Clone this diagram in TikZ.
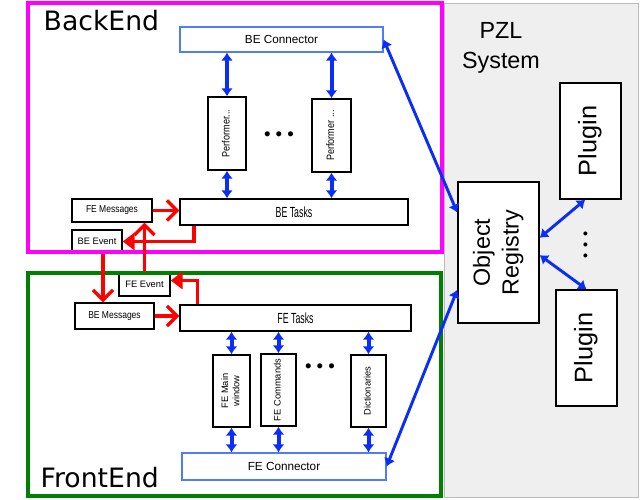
\documentclass[tikz,border=0pt]{standalone}
\usepackage{fontspec}
\setmainfont{Liberation Sans}
\newfontfamily\labelfont{DejaVu Sans}
\newfontfamily\narrowfont[FakeStretch=0.6]{Liberation Sans}
\newfontfamily\slimfont[FakeStretch=0.85]{Liberation Sans}
\usetikzlibrary{arrows.meta,calc}
\definecolor{PzlMagenta}{HTML}{FF00FF}
\definecolor{PzlGreen}{HTML}{008000}
\definecolor{PzlBlue}{HTML}{0A2EF5}
\definecolor{PzlLink}{HTML}{4F7BFF}
\definecolor{PzlRed}{HTML}{FF0000}
\definecolor{PzlGrey}{HTML}{EFEFEF}
\definecolor{PzlEdge}{HTML}{BBBBBB}

\newcommand{\uptext}[1]{\rotatebox{90}{\begin{tabular}{@{}c@{}}#1\end{tabular}}}

\begin{document}
\begin{tikzpicture}[x=0.75pt,y=-0.75pt,
    part/.style={
      draw=black,
      line width=1.1pt,
      fill=white,
      inner sep=0pt,
      font=\fontsize{7}{8.4}\selectfont
    },
    link/.style={
      draw=PzlLink,
      line width=0.9pt,
      fill=white,
      inner sep=0pt,
      font=\fontsize{8.8}{10}\selectfont
    },
    bus/.style={
      draw=PzlBlue,
      line width=3pt,
      {Latex[length=6pt,width=9pt]}-{Latex[length=6pt,width=9pt]}
    },
    msg/.style={draw=PzlRed,line width=2.5pt,-{Straight Barb[length=7.5pt,width=15pt]}},
    evt/.style={draw=PzlRed,line width=2.5pt,-{Triangle[length=9pt,width=13pt]}},
    bigtext/.style={font=\fontsize{17.5}{22.5}\selectfont}
  ]
    \useasboundingbox (0,0) rectangle (640,500);

    % PZL system area
    \draw[draw=PzlEdge,fill=PzlGrey] (444,3) rectangle (638,497);
    \node[bigtext,align=center] (pzl) at (501,48) {PZL\\System};

    \node[part,minimum width=60.75pt,minimum height=105.75pt,font=\fontsize{17.5}{21.5}\selectfont]
      (objreg) at (498.5,252.5) {\uptext{Object\\Registry}};
    \node[part,minimum width=45.75pt,minimum height=87pt,font=\fontsize{19}{22}\selectfont]
      (plugin1) at (590.5,141) {\uptext{Plugin}};
    \node[part,minimum width=45.75pt,minimum height=87pt,font=\fontsize{19}{22}\selectfont]
      (plugin2) at (586.5,348) {\uptext{Plugin}};
    \node[font=\fontsize{11}{13}\selectfont] (pldots) at (587,245) {\rotatebox{90}{•\hspace{4.5pt}•\hspace{4.5pt}•}};

    % BackEnd parts
    \node[link,minimum width=152.25pt,minimum height=18.75pt] (beconn) at (281.5,39.5) {BE Connector};
    \node[part,minimum width=28.5pt,minimum height=54.75pt,font=\slimfont\fontsize{8}{9.5}\selectfont]
      (perf1) at (227,133.5) {\uptext{Performer...}};
    \node[part,minimum width=29.25pt,minimum height=54.75pt,font=\slimfont\fontsize{8}{9.5}\selectfont]
      (perf2) at (331.5,135.5) {\uptext{Performer ...}};
    \node[font=\fontsize{14}{16}\selectfont] (bedots) at (279,136) {• • •};
    \node[part,minimum width=171pt,minimum height=19.5pt,font=\narrowfont\fontsize{11}{13}\selectfont]
      (betasks) at (294,212) {BE Tasks};
    \node[part,minimum width=60pt,minimum height=17.25pt,font=\slimfont\fontsize{7.5}{9}\selectfont]
      (femsg) at (112,210.5) {FE Messages};
    \node[part,minimum width=37.5pt,minimum height=17.25pt] (beevent) at (97,241.5) {BE Event};

    % FrontEnd parts
    \node[part,minimum width=38.25pt,minimum height=17.25pt] (feevent) at (144.5,284.5) {FE Event};
    \node[part,minimum width=59.25pt,minimum height=19.5pt,font=\slimfont\fontsize{7.5}{9}\selectfont]
      (bemsg) at (114.5,316) {BE Messages};
    \node[part,minimum width=173.25pt,minimum height=19.5pt,font=\narrowfont\fontsize{11}{13}\selectfont]
      (fetasks) at (295.5,318) {FE Tasks};
    \node[part,minimum width=27.75pt,minimum height=54pt] (femain) at (231.5,391) {\uptext{FE Main\\window}};
    \node[part,minimum width=26.25pt,minimum height=54pt] (fecmd) at (278.5,390) {\uptext{FE Commands}};
    \node[font=\fontsize{14}{16}\selectfont] (fedots) at (320,368) {• • •};
    \node[part,minimum width=26.25pt,minimum height=54pt] (dict) at (368.5,391) {\uptext{Dictionaries}};
    \node[link,minimum width=153pt,minimum height=20.25pt] (feconn) at (284,466.5) {FE Connector};

    % Frames
    \draw[PzlMagenta,line width=2.4pt] (28,3) rectangle (442,252);
    \draw[PzlGreen,line width=2.4pt] (28,273) rectangle (441,496);
    \node[anchor=base west,font=\labelfont\fontsize{20}{24}\selectfont] (belabel) at (39,30) {BackEnd};
    \node[anchor=base west,font=\labelfont\fontsize{20}{24}\selectfont] (felabel) at (36,487) {FrontEnd};

    % Blue links
    \draw[bus] (beconn.south -| perf1.north) -- (perf1.north);
    \draw[bus] (beconn.south -| perf2.north) -- (perf2.north);
    \draw[bus] (perf1.south) -- (perf1.south |- betasks.north);
    \draw[bus] (perf2.south) -- (perf2.south |- betasks.north);
    \draw[bus] (fetasks.south -| femain.north) -- (femain.north);
    \draw[bus] (fetasks.south -| fecmd.north) -- (fecmd.north);
    \draw[bus] (fetasks.south -| dict.north) -- (dict.north);
    \draw[bus] (femain.south) -- (femain.south |- feconn.north);
    \draw[bus] (fecmd.south) -- (fecmd.south |- feconn.north);
    \draw[bus] (dict.south) -- (dict.south |- feconn.north);
    \draw[bus,line width=2.2pt] (beconn.east) -- ([yshift=30pt]objreg.west);
    \draw[bus,line width=2.2pt] (feconn.east) -- ([yshift=-28pt]objreg.west);
    \draw[bus,line width=2.2pt] ([yshift=11pt]objreg.east) -- ([xshift=-4pt]plugin1.south);
    \draw[bus,line width=2.2pt] ([yshift=-2pt]objreg.east) -- (plugin2.north);

    % Red messages and events
    \draw[msg] (femsg.east) -- (femsg.east -| betasks.west);
    \draw[evt] ([xshift=11pt]betasks.south west) |- (beevent.east);
    \draw[msg] (feevent.north) -- (feevent.north |- femsg.south);
    \draw[msg] ([xshift=4.5pt]beevent.south) -- ([xshift=4.5pt]beevent.south |- bemsg.north);
    \draw[evt] ([xshift=13.5pt]fetasks.north west) |- ([yshift=3pt]feevent.east);
    \draw[msg] (bemsg.east) -- (bemsg.east -| fetasks.west);
\end{tikzpicture}
\end{document}
